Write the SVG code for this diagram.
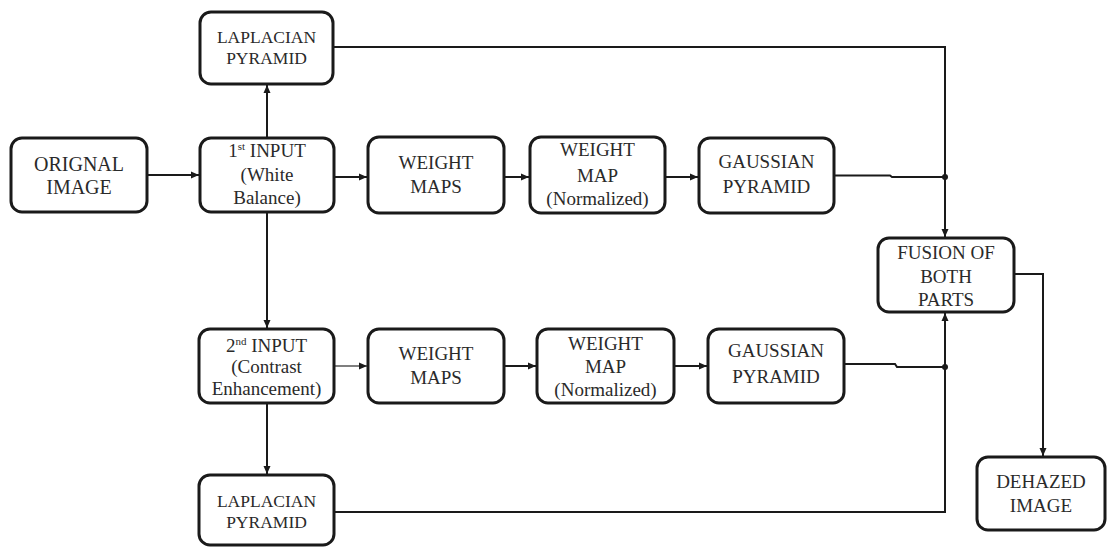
<svg xmlns="http://www.w3.org/2000/svg" width="1107" height="547" viewBox="0 0 1107 547" font-family="'Liberation Serif', 'Times New Roman', Times, serif">
<style>
.box{fill:#fff;stroke:#1a1a1a;stroke-width:3}
text{font-family:"Liberation Serif","Times New Roman",Times,serif}
.t{font-size:19px;fill:#2a2a2a;text-anchor:middle}
.s{font-size:17.5px}
.ln{fill:none;stroke:#1a1a1a;stroke-width:2}
.thin{stroke-width:1.3;stroke:#555}
</style>
<defs>
<marker id="ah" markerUnits="userSpaceOnUse" markerWidth="9" markerHeight="8" refX="8" refY="4" orient="auto">
<path d="M0,0.5 L8,4 L0,7.5 z" fill="#1a1a1a"/>
</marker>
</defs>
<rect width="1107" height="547" fill="#fff"/>
<g id="connectors">
<path class="ln" d="M147,175 H199" marker-end="url(#ah)"/>
<path class="ln" d="M267,138 V85" marker-end="url(#ah)"/>
<path class="ln" d="M334,177 H367" marker-end="url(#ah)"/>
<path class="ln" d="M504,177 H529" marker-end="url(#ah)"/>
<path class="ln" d="M665,177 H698" marker-end="url(#ah)"/>
<path class="ln" d="M834,175.5 H890 L892,177 H945"/>
<path class="ln" d="M333,47 H945 V237" marker-end="url(#ah)"/>
<path class="ln" d="M267,212 V328" marker-end="url(#ah)"/>
<path class="ln thin" d="M334,366 H367" marker-end="url(#ah)"/>
<path class="ln" d="M504,366 H536" marker-end="url(#ah)"/>
<path class="ln" d="M674,366 H707" marker-end="url(#ah)"/>
<path class="ln" d="M844,364 H895 L897,367 H945"/>
<path class="ln" d="M267,403 V474" marker-end="url(#ah)"/>
<path class="ln" d="M334,512 H945 V313" marker-end="url(#ah)"/>
<path class="ln" d="M1014,274 H1043 V456" marker-end="url(#ah)"/>
<circle cx="945" cy="177" r="3" fill="#1a1a1a"/>
<circle cx="945" cy="367" r="3" fill="#1a1a1a"/>
</g>
<g id="lap1">
<rect class="box" x="200" y="12" width="133" height="72" rx="11"/>
<text class="t s" x="266.5" y="43">LAPLACIAN</text>
<text class="t s" x="266.5" y="64">PYRAMID</text>
</g>
<g id="orig">
<rect class="box" x="11" y="138" width="136" height="74" rx="11"/>
<text class="t" x="79" y="171" style="font-size:20px">ORIGNAL</text>
<text class="t" x="79" y="194" style="font-size:20px">IMAGE</text>
</g>
<g id="in1">
<rect class="box" x="200" y="138" width="134" height="74" rx="11"/>
<text class="t" x="267" y="157">1<tspan font-size="11" dy="-7">st</tspan><tspan dy="7"> INPUT</tspan></text>
<text class="t" x="267" y="181">(White</text>
<text class="t" x="267" y="204">Balance)</text>
</g>
<g id="wm1">
<rect class="box" x="368" y="137" width="136" height="76" rx="11"/>
<text class="t" x="436" y="169">WEIGHT</text>
<text class="t" x="436" y="193">MAPS</text>
</g>
<g id="wn1">
<rect class="box" x="530" y="137" width="135" height="76" rx="11"/>
<text class="t" x="597.5" y="156">WEIGHT</text>
<text class="t" x="597.5" y="182">MAP</text>
<text class="t" x="597.5" y="205">(Normalized)</text>
</g>
<g id="gp1">
<rect class="box" x="699" y="138" width="135" height="75" rx="11"/>
<text class="t" x="766.5" y="168">GAUSSIAN</text>
<text class="t" x="766.5" y="193">PYRAMID</text>
</g>
<g id="fusion">
<rect class="box" x="878" y="238" width="136" height="74" rx="11"/>
<text class="t" x="946" y="259">FUSION OF</text>
<text class="t" x="946" y="283">BOTH</text>
<text class="t" x="946" y="306">PARTS</text>
</g>
<g id="in2">
<rect class="box" x="199" y="329" width="135" height="74" rx="11"/>
<text class="t" x="266.5" y="352">2<tspan font-size="11" dy="-7">nd</tspan><tspan dy="7"> INPUT</tspan></text>
<text class="t" x="266.5" y="373">(Contrast</text>
<text class="t" x="266.5" y="395">Enhancement)</text>
</g>
<g id="wm2">
<rect class="box" x="368" y="329" width="136" height="74" rx="11"/>
<text class="t" x="436" y="360">WEIGHT</text>
<text class="t" x="436" y="384">MAPS</text>
</g>
<g id="wn2">
<rect class="box" x="537" y="329" width="137" height="74" rx="11"/>
<text class="t" x="605.5" y="350">WEIGHT</text>
<text class="t" x="605.5" y="373">MAP</text>
<text class="t" x="605.5" y="396">(Normalized)</text>
</g>
<g id="gp2">
<rect class="box" x="708" y="329" width="136" height="74" rx="11"/>
<text class="t" x="776" y="357">GAUSSIAN</text>
<text class="t" x="776" y="383">PYRAMID</text>
</g>
<g id="lap2">
<rect class="box" x="199" y="475" width="135" height="70" rx="11"/>
<text class="t s" x="266.5" y="507">LAPLACIAN</text>
<text class="t s" x="266.5" y="528">PYRAMID</text>
</g>
<g id="dehazed">
<rect class="box" x="977" y="457" width="128" height="73" rx="11"/>
<text class="t" x="1041" y="488">DEHAZED</text>
<text class="t" x="1041" y="512">IMAGE</text>
</g>
</svg>
